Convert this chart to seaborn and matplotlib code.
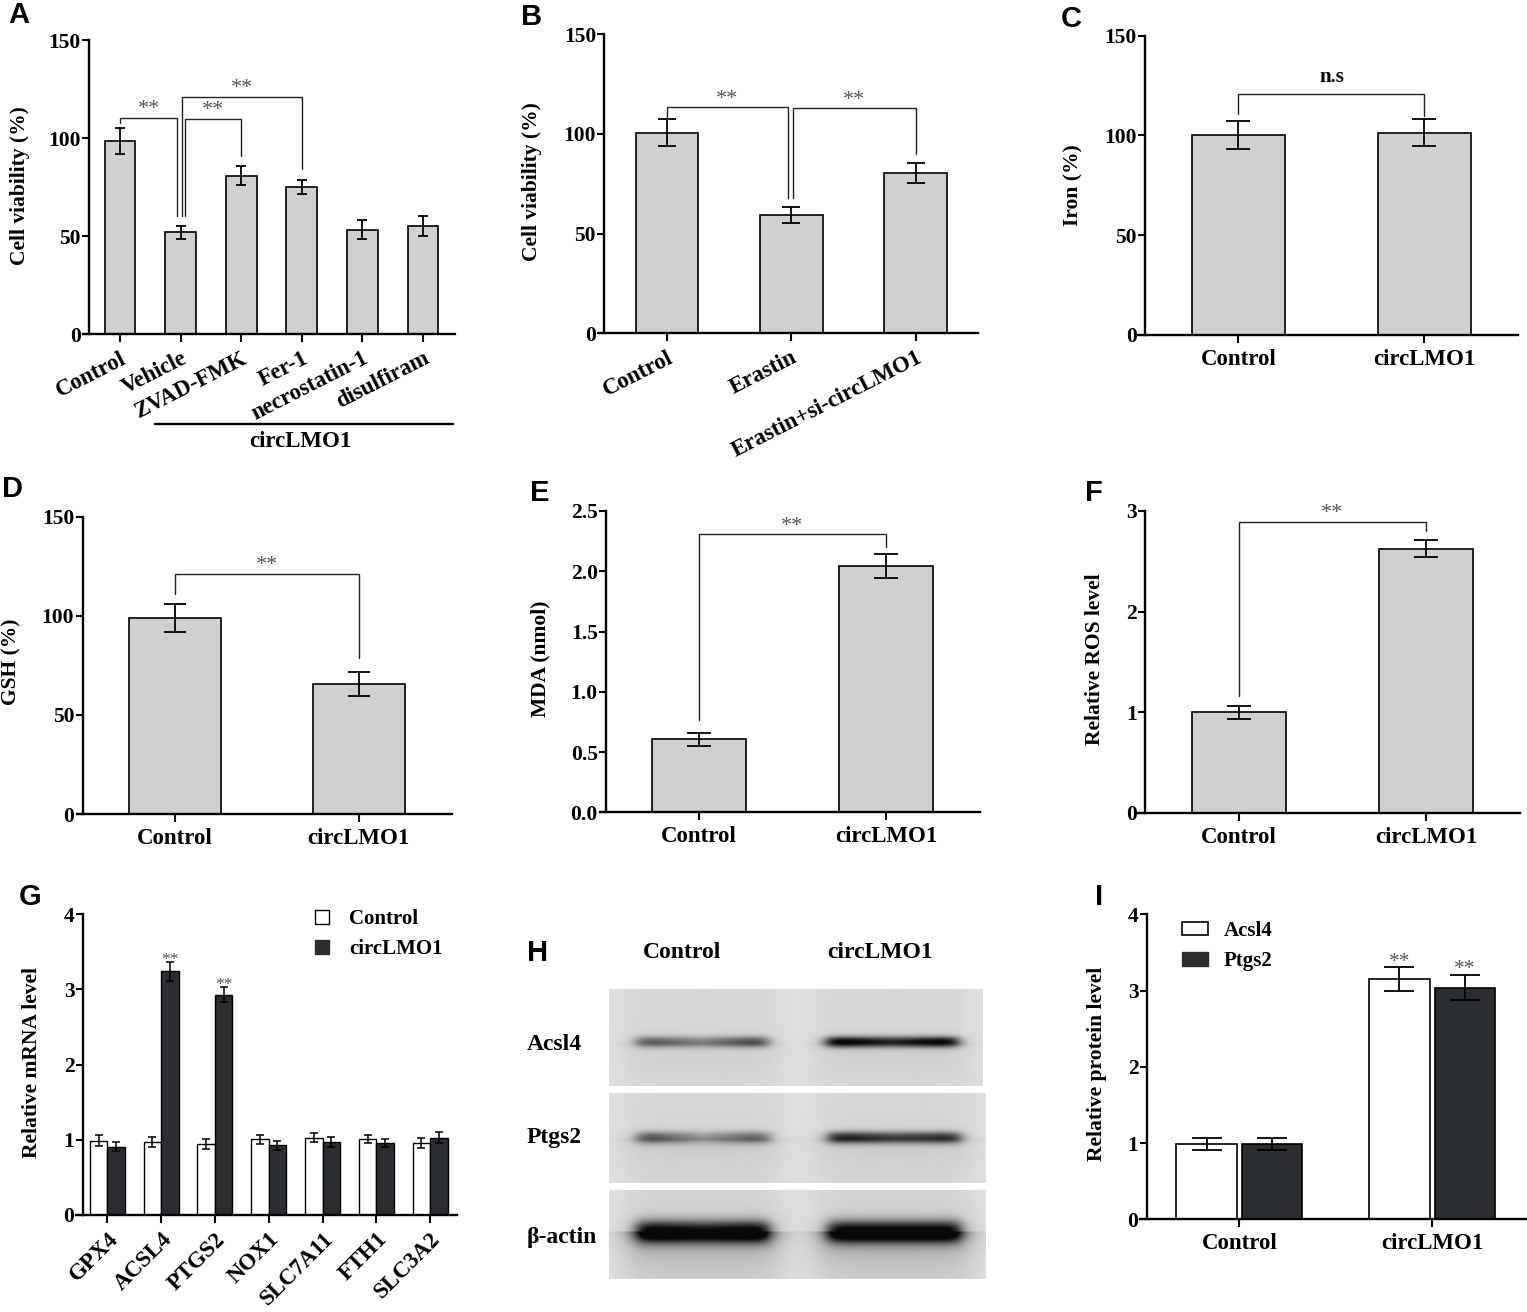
import numpy as np
import pandas as pd
import matplotlib
matplotlib.use("Agg")
import matplotlib.pyplot as plt
from matplotlib.lines import Line2D
from matplotlib.patches import Patch
import seaborn as sns

# ---------------- data ----------------
a_labels = ["Control", "Vehicle", "ZVAD-FMK", "Fer-1", "necrostatin-1", "disulfiram"]
a_means = [98.5, 51.8, 80.8, 75.0, 53.3, 55.0]
a_sem = [6.5, 3.4, 4.7, 3.7, 4.7, 5.2]
a_brackets = [(0, 0.945, 110.4, 107.8, 60.2, "**"),
              (1.07, 2, 109.7, 60.2, 90.8, "**"),
              (1.028, 3, 121.0, 60.2, 84.0, "**")]

b_labels = ["Control", "Erastin", "Erastin+si-circLMO1"]
b_means = [100.6, 59.1, 80.2]
b_sem = [6.8, 4.0, 5.0]
b_brackets = [(0, 0.97, 113.2, 107.4, 67.6, "**"),
              (1.014, 2, 112.7, 67.6, 89.9, "**")]

two_groups = ["Control", "circLMO1"]
c_means = [100.2, 101.3]
c_sem = [7.0, 6.8]
c_brackets = [(0, 1, 120.6, 111.0, 110.0, "n.s")]

d_means = [98.9, 65.6]
d_sem = [7.2, 6.0]
d_brackets = [(0, 1, 121.1, 110.8, 78.9, "**")]

e_means = [0.605, 2.045]
e_sem = [0.055, 0.10]
e_brackets = [(0, 1, 2.306, 0.766, 2.203, "**")]

f_means = [1.0, 2.625]
f_sem = [0.065, 0.083]
f_brackets = [(0, 1, 2.893, 1.16, 2.80, "**")]

g_genes = ["GPX4", "ACSL4", "PTGS2", "NOX1", "SLC7A11", "FTH1", "SLC3A2"]
g_series = ["Control", "circLMO1"]
g_control = [0.99, 0.965, 0.945, 1.01, 1.03, 1.01, 0.955]
g_control_sem = [0.07, 0.066, 0.07, 0.06, 0.058, 0.05, 0.067]
g_circ = [0.91, 3.24, 2.93, 0.925, 0.97, 0.955, 1.03]
g_circ_sem = [0.06, 0.13, 0.10, 0.058, 0.066, 0.053, 0.07]
g_marks = ["", "**", "**", "", "", "", ""]

i_groups = ["Control", "circLMO1"]
i_series = ["Acsl4", "Ptgs2"]
i_acsl4 = [0.99, 3.15]
i_acsl4_sem = [0.075, 0.157]
i_ptgs2 = [0.99, 3.04]
i_ptgs2_sem = [0.075, 0.17]
i_marks = ["", "**"]

blot_rows = ["Acsl4", "Ptgs2", "β-actin"]
blot_lanes = ["Control", "circLMO1"]
# band darkness (left, middle, right part of each lane)
blot_acsl4 = [[0.55, 0.38, 0.62], [1.0, 0.80, 0.98]]
blot_ptgs2 = [[0.58, 0.28, 0.52], [0.82, 0.68, 0.76]]
blot_actin = [[1.0, 0.90, 1.0], [1.0, 1.0, 1.0]]

# ---------------- style ----------------
sns.set_theme(style="ticks")
plt.rcParams["font.family"] = ["Liberation Serif", "DejaVu Serif"]
plt.rcParams["font.weight"] = "bold"
plt.rcParams["axes.edgecolor"] = "black"
plt.rcParams["xtick.color"] = "black"
plt.rcParams["ytick.color"] = "black"
plt.rcParams["text.color"] = "black"

GREY = "#d0d0d0"
DARK = "#2b2e30"
STAR = "#555555"
W, H = 1527, 1312
fig = plt.figure(figsize=(W / 100, H / 100), dpi=100)
fig.patch.set_facecolor("white")


def px_axes(left, right, top, bottom):
    return fig.add_axes([left / W, 1 - bottom / H, (right - left) / W, (bottom - top) / H])


def style_axes(ax, xlim, spine_x, ylim, yticks, ytl=None, xlabsize=16.5):
    ax.set_xlim(xlim)
    ax.set_ylim(ylim)
    for s in ["top", "right"]:
        ax.spines[s].set_visible(False)
    ax.spines["left"].set_position(("data", spine_x))
    ax.spines["left"].set_linewidth(1.7)
    ax.spines["bottom"].set_linewidth(1.7)
    ax.set_yticks(yticks)
    if ytl is not None:
        ax.set_yticklabels(ytl)
    ax.tick_params(axis="y", direction="out", length=5, width=1.5, labelsize=15.5, pad=1)
    ax.tick_params(axis="x", direction="out", length=6, width=1.5, labelsize=xlabsize, pad=4)
    ax.set_xlabel("")
    ax.set_ylabel("")
    ax.grid(False)
    ax.set_facecolor("none")


def draw_brackets(ax, brackets):
    for x1, x2, yb, y1e, y2e, lab in brackets:
        ax.plot([x1, x1, x2, x2], [y1e, yb, yb, y2e], color="#222222", lw=1.0,
                solid_joinstyle="miter", zorder=5, clip_on=False)
        if lab == "n.s":
            ax.annotate(lab, xy=((x1 + x2) / 2, yb), xytext=(0, 5.5), textcoords="offset points",
                        ha="center", va="bottom", fontsize=15, fontweight="bold", color="black")
        else:
            ax.annotate(lab, xy=((x1 + x2) / 2, yb), xytext=(0, -1), textcoords="offset points",
                        ha="center", va="bottom", fontsize=16, fontweight="normal", color=STAR)


def simple_bars(ax, labels, means, sem, width, capsize):
    sns.barplot(x=labels, y=means, ax=ax, color=GREY, edgecolor="black", linewidth=1.2,
                width=width, saturation=1, errorbar=None)
    ax.errorbar(np.arange(len(means)), means, yerr=sem, fmt="none", ecolor="black",
                elinewidth=1.3, capsize=capsize, capthick=1.3, zorder=4)


def ylab(text, x, y):
    fig.text(x / W, 1 - y / H, text, rotation=90, ha="center", va="center",
             fontsize=15.5, fontweight="bold")


def letter(text, x, y):
    fig.text(x / W, 1 - y / H, text, ha="left", va="top", fontsize=21,
             fontweight="bold", family=["Liberation Sans", "DejaVu Sans"])


def rotate_labels(ax, angle):
    for t in ax.get_xticklabels():
        t.set_rotation(angle)
        t.set_ha("right")
        t.set_va("top")
        t.set_rotation_mode("anchor")


# ---------------- A ----------------
axA = px_axes(82.7, 455, 40, 334)
simple_bars(axA, a_labels, a_means, a_sem, 0.506, 3.4)
style_axes(axA, (-0.616, 5.528), -0.507, (0, 150), [0, 50, 100, 150])
rotate_labels(axA, 27)
draw_brackets(axA, a_brackets)
tr = axA.get_xaxis_transform()
axA.plot([0.578, 5.495], [-0.306, -0.306], transform=tr, color="black", lw=1.7, clip_on=False)
axA.text(2.97, -0.367, "circLMO1", transform=tr, ha="center", va="center", fontsize=16.5,
         fontweight="bold")
ylab("Cell viability (%)", 20, 186)
letter("A", 8, 1)

# ---------------- B ----------------
axB = px_axes(599, 978, 34, 333.3)
simple_bars(axB, b_labels, b_means, b_sem, 0.503, 6.8)
style_axes(axB, (-0.547, 2.502), -0.504, (0, 150), [0, 50, 100, 150])
rotate_labels(axB, 27)
draw_brackets(axB, b_brackets)
ylab("Cell viability (%)", 532, 182)
letter("B", 521, 3)

# ---------------- C ----------------
axC = px_axes(1138, 1518, 35.7, 335)
simple_bars(axC, two_groups, c_means, c_sem, 0.5, 8.4)
style_axes(axC, (-0.540, 1.503), -0.503, (0, 150), [0, 50, 100, 150])
draw_brackets(axC, c_brackets)
ylab("Iron (%)", 1073, 185)
letter("C", 1061, 5)

# ---------------- D ----------------
axD = px_axes(77, 451.7, 516.7, 814)
simple_bars(axD, two_groups, d_means, d_sem, 0.5, 8.2)
style_axes(axD, (-0.535, 1.506), -0.505, (0, 150), [0, 50, 100, 150])
draw_brackets(axD, d_brackets)
ylab("GSH (%)", 11, 662)
letter("D", 2, 475)

# ---------------- E ----------------
axE = px_axes(600, 980, 511, 812.3)
simple_bars(axE, two_groups, e_means, e_sem, 0.5, 8.6)
e_ticks = [0, 0.5, 1.0, 1.5, 2.0, 2.5]
style_axes(axE, (-0.529, 1.503), -0.497, (0, 2.5), e_ticks, [f"{v:.1f}" for v in e_ticks])
draw_brackets(axE, e_brackets)
ylab("MDA (nmol)", 540, 659)
letter("E", 530, 479)

# ---------------- F ----------------
axF = px_axes(1138, 1520, 511, 812.7)
simple_bars(axF, two_groups, f_means, f_sem, 0.5, 8.6)
style_axes(axF, (-0.540, 1.503), -0.503, (0, 3), [0, 1, 2, 3])
draw_brackets(axF, f_brackets)
ylab("Relative ROS level", 1095, 659)
letter("F", 1085, 479)

# ---------------- G ----------------
axG = px_axes(76, 456.7, 914.3, 1215)
g_df = pd.DataFrame({
    "gene": g_genes * 2,
    "group": [g_series[0]] * len(g_genes) + [g_series[1]] * len(g_genes),
    "value": g_control + g_circ,
})
sns.barplot(data=g_df, x="gene", y="value", hue="group", hue_order=g_series, order=g_genes,
            palette={g_series[0]: "white", g_series[1]: DARK}, edgecolor="black", linewidth=1.0,
            width=0.65, saturation=1, errorbar=None, legend=False, ax=axG)
for k, (cont, sem) in enumerate(zip(axG.containers, [g_control_sem, g_circ_sem])):
    xs = [p.get_x() + p.get_width() / 2 for p in cont.patches]
    ys = [p.get_height() for p in cont.patches]
    axG.errorbar(xs, ys, yerr=sem, fmt="none", ecolor="black", elinewidth=1.1,
                 capsize=2.6, capthick=1.1, zorder=4)
    if k == 1:
        for x, y, e, m in zip(xs, ys, sem, g_marks):
            if m:
                axG.annotate(m, xy=(x, y + e), xytext=(0, -4.5), textcoords="offset points",
                             ha="center", va="bottom", fontsize=12.5, fontweight="normal", color=STAR)
style_axes(axG, (-0.582, 6.494), -0.457, (0, 4), [0, 1, 2, 3, 4], xlabsize=16.5)
rotate_labels(axG, 45)
g_handles = [Line2D([], [], ls="none", marker="s", markersize=10, markerfacecolor="white",
                    markeredgecolor="black", markeredgewidth=1.0),
             Line2D([], [], ls="none", marker="s", markersize=10, markerfacecolor=DARK,
                    markeredgecolor=DARK)]
axG.legend(g_handles, g_series, loc="upper left", bbox_to_anchor=(0.618, 1.018), frameon=False,
           borderpad=0, borderaxespad=0, handlelength=1.0, handletextpad=0.81, labelspacing=0.5,
           prop={"size": 15, "weight": "bold"})
ylab("Relative mRNA level", 32, 1062)
letter("G", 19, 883)

# ---------------- H (western blot) ----------------
lane_centers = [0.248, 0.756]
lane_half = 0.176


def blot_image(bands, band_y, thick, smear, h, w=380):
    yy, xx = np.mgrid[0:h, 0:w].astype(float)
    xf = xx / w
    dark = np.zeros((h, w))
    for c, vals in zip(lane_centers, bands):
        rel = (xf - c) / lane_half
        hprof = 1 / (1 + np.exp((np.abs(rel) - 1) * 16))
        wide = 1 / (1 + np.exp((np.abs(rel) - 1.15) * 8))
        amp = np.interp(rel, [-0.75, 0.0, 0.75], vals)
        dy = (yy - band_y * h) / thick
        vprof = np.exp(-np.abs(dy) ** 2.2)
        below = np.clip(yy - band_y * h, 0, None) / h
        sm = smear * np.exp(-below * 4) * (yy > band_y * h) + smear * 0.25 * np.exp(-np.abs(yy - band_y * h) / (0.3 * h))
        dark += hprof * amp * vprof + wide * (sm + 0.035)
    return 0.875 - 0.84 * np.clip(dark, 0, 1)


strips = [
    (blot_acsl4, 989.3, 1086, 983.3, 0.54, 5.5, 0.05),
    (blot_ptgs2, 1092.7, 1182.7, 985.7, 0.49, 6.0, 0.07),
    (blot_actin, 1190, 1279.3, 985.7, 0.47, 11.0, 0.32),
]
row_y = [1045, 1137, 1237]
for (bands, top, bot, right, by, th, sm), name, ry in zip(strips, blot_rows, row_y):
    axb = px_axes(609.3, right, top, bot)
    hh = int(round(bot - top))
    axb.imshow(blot_image(bands, by, th, sm, hh), cmap="gray", vmin=0, vmax=1, aspect="auto",
               interpolation="bilinear")
    axb.set_axis_off()
    fig.text(527 / W, 1 - ry / H, name, ha="left", va="center", fontsize=17, fontweight="bold")
for lane, lx in zip(blot_lanes, [682, 880]):
    fig.text(lx / W, 1 - 952 / H, lane, ha="center", va="center", fontsize=17, fontweight="bold")
letter("H", 527, 939)

# ---------------- I ----------------
axI = px_axes(1140, 1526.7, 914.3, 1219.3)
i_df = pd.DataFrame({
    "group": i_groups * 2,
    "protein": [i_series[0]] * 2 + [i_series[1]] * 2,
    "value": i_acsl4 + i_ptgs2,
})
sns.barplot(data=i_df, x="group", y="value", hue="protein", hue_order=i_series, order=i_groups,
            palette={i_series[0]: "white", i_series[1]: DARK}, edgecolor="black", linewidth=1.2,
            width=0.68, gap=0.08, saturation=1, errorbar=None, legend=False, ax=axI)
for cont, sem in zip(axI.containers, [i_acsl4_sem, i_ptgs2_sem]):
    xs = [p.get_x() + p.get_width() / 2 for p in cont.patches]
    ys = [p.get_height() for p in cont.patches]
    axI.errorbar(xs, ys, yerr=sem, fmt="none", ecolor="black", elinewidth=1.3,
                 capsize=11, capthick=1.3, zorder=4)
    for x, y, e, m in zip(xs, ys, sem, i_marks):
        if m:
            axI.annotate(m, xy=(x, y + e), xytext=(0, -3.5), textcoords="offset points",
                         ha="center", va="bottom", fontsize=15.5, fontweight="normal", color=STAR)
style_axes(axI, (-0.515, 1.49), -0.48, (0, 4), [0, 1, 2, 3, 4])
i_handles = [Patch(facecolor="white", edgecolor="black", linewidth=1.2),
             Patch(facecolor=DARK, edgecolor=DARK)]
axI.legend(i_handles, i_series, loc="upper left", bbox_to_anchor=(0.108, 0.978), frameon=False,
           borderpad=0, borderaxespad=0, handlelength=1.28, handleheight=0.61, handletextpad=0.72,
           labelspacing=0.5, prop={"size": 15, "weight": "bold"})
ylab("Relative protein level", 1097, 1064)
letter("I", 1095, 883)

fig.savefig("out.png", dpi=100, facecolor="white")
